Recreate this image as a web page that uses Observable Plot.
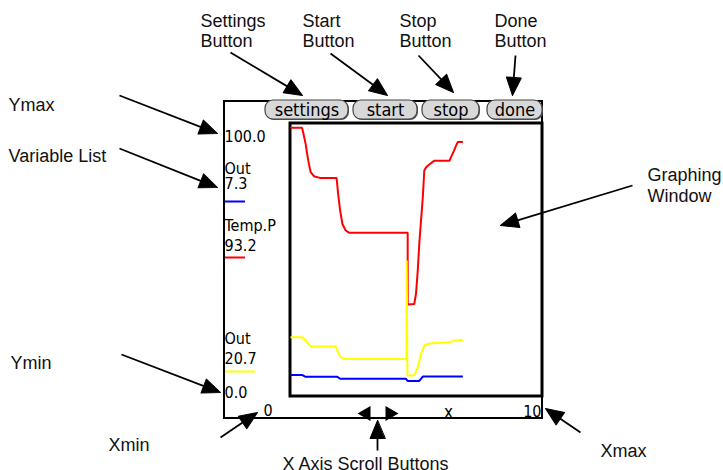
<!DOCTYPE html>
<html><head><meta charset="utf-8">
<script src="https://cdn.jsdelivr.net/npm/d3@7"></script>
<script src="https://cdn.jsdelivr.net/npm/@observablehq/plot@0.6"></script>
<style>
body{margin:0;background:#fff}
#wrap{position:relative;width:723px;height:470px;background:#fff}
#wrap svg{max-width:none}
#wrap svg.overlay{position:absolute}
</style></head><body><div id="wrap"></div>
<script>
// ---- series data (x: 0..10, y: 0..100) ----
const tempPX = [0, 0.46, 0.53, 0.6, 0.66, 0.73, 0.8, 0.93, 1.2, 1.83, 1.89, 1.97, 2.06, 2.19, 2.32, 4.65, 4.65, 4.91, 4.98, 5.05, 5.11, 5.18, 5.25, 5.31, 5.38, 5.51, 5.71, 6.31, 6.37, 6.48, 6.57, 6.64, 6.84];
const tempPY = [98.4, 98.4, 95.6, 92.6, 88.9, 85.2, 82.2, 80.7, 80, 80, 74.2, 68.1, 63.2, 60.8, 60, 60, 33.7, 33.9, 37.6, 46.2, 55.9, 64.5, 73, 82.8, 84, 85, 86.4, 86.4, 87.7, 89.9, 91.9, 93.2, 93.2];
const out2X = [0, 0.46, 0.6, 0.8, 1.79, 1.89, 1.99, 2.19, 4.6, 4.61, 4.64, 4.91, 5.05, 5.18, 5.31, 5.45, 5.65, 6.31, 6.51, 6.84];
const out2Y = [21.7, 21.7, 20.5, 18.3, 18.3, 16.2, 14.4, 13.7, 13.7, 49.8, 7.7, 7.7, 10.7, 15.6, 18.7, 19.3, 19.5, 19.9, 20.5, 20.7];
const out1X = [0, 0.46, 0.6, 1.86, 1.97, 4.58, 4.65, 5.11, 5.25, 6.84];
const out1Y = [7.9, 7.9, 7.2, 7.2, 6.5, 6.5, 5.7, 5.7, 7.3, 7.3];

const seriesNames = ["Out", "Temp.P", "Out"];
const seriesColors = ["#0000ff", "#ff0000", "#ffff00"];
const seriesXs = [out1X, tempPX, out2X];
const seriesYs = [out1Y, tempPY, out2Y];
const drawOrder = [1, 2, 0];

const xDomain = [0, 10];
const yDomain = [0, 100];
const xAxisLabel = "x";

const buttonLabels = ["settings", "start", "stop", "done"];

// annotation callouts
const calloutLines = ["Ymax", "Variable List", "Ymin", "Xmin", "Xmax", "X Axis Scroll Buttons",
  "Settings", "Button", "Start", "Button", "Stop", "Button", "Done", "Button", "Graphing", "Window"];

// ---- layout (page pixels) ----
const W = 723, H = 470;
const device = {x1: 224, x2: 542, y1: 101, y2: 418};
const graph = {x1: 290, x2: 542, y1: 123, y2: 396};
const buttonX1 = [265, 353, 422, 487], buttonX2 = [348, 417, 479, 542];
const buttonY1 = 100, buttonY2 = 119, buttonBase = 115;
const calloutX = [8, 8, 10, 108, 600, 282, 200, 200, 302, 302, 399, 399, 494, 494, 647, 647];
const calloutBase = [110, 161, 368, 450, 456, 469, 26, 46, 26, 46, 26, 46, 26, 46, 180, 201];
const arrowFrom = [[119,95],[119,148],[121,354],[220,437],[230,52],[330,53],[418,55],[515,55],[632,185],[377,450],[580,432]];
const arrowTo = [[217,133],[217,187],[220,392],[257,412],[302,95],[387,95],[453,92],[512,95],[500,225],[377,420],[545,408]];
const listBase = {ymax: 141, name: [173, 230, 343], value: [188, 250, 363], ymin: 397};
const swatchY = [201, 257, 371], swatchX2 = [245, 245, 255];
const scrollX = [364, 391], scrollY = 413;

const palmFont = "'DejaVu Sans Condensed', 'DejaVu Sans', sans-serif";
const labelFont = "'Liberation Sans', Arial, Helvetica, sans-serif";
const fmt = d3.format(".1f");

// ---- build tables ----
const buttons = buttonLabels.map((label, i) => ({label, x1: buttonX1[i], x2: buttonX2[i], xm: (buttonX1[i] + buttonX2[i]) / 2}));
const callouts = calloutLines.map((text, i) => ({text, x: calloutX[i], y: calloutBase[i]}));
const arrows = arrowFrom.map((f, i) => {
  const t = arrowTo[i], dx = t[0] - f[0], dy = t[1] - f[1], len = Math.hypot(dx, dy);
  return {x1: f[0], y1: f[1], x2: t[0], y2: t[1], lx: t[0] - dx / len * 10, ly: t[1] - dy / len * 10,
    angle: Math.atan2(dx, -dy) * 180 / Math.PI};
});
const listTexts = [{text: fmt(yDomain[1]), y: listBase.ymax}, {text: fmt(yDomain[0]), y: listBase.ymin}];
seriesNames.forEach((n, i) => {
  const ys = seriesYs[i];
  listTexts.push({text: n, y: listBase.name[i]});
  listTexts.push({text: fmt(ys[ys.length - 1]), y: listBase.value[i]});
});
const swatches = seriesColors.map((c, i) => ({color: c, y: swatchY[i], x1: device.x1, x2: swatchX2[i]}));

const headShape = {
  draw(context) {
    context.moveTo(0, 0);
    context.lineTo(-7.5, 18);
    context.lineTo(7.5, 18);
    context.closePath();
  }
};
const leftTri = {draw(c) { c.moveTo(-7, 0); c.lineTo(6, -7.5); c.lineTo(6, 7.5); c.closePath(); }};
const rightTri = {draw(c) { c.moveTo(7, 0); c.lineTo(-6, -7.5); c.lineTo(-6, 7.5); c.closePath(); }};

const base = Plot.plot({
  width: W, height: H, margin: 0,
  x: {type: "identity"}, y: {type: "identity"},
  style: {background: "white"},
  marks: [
    Plot.rect([device], {x1: "x1", x2: "x2", y1: "y1", y2: "y2", fill: "white"}),
    Plot.text(listTexts, {x: device.x1, y: "y", text: "text", textAnchor: "start", lineAnchor: "bottom",
      fontFamily: palmFont, fontSize: 16, fill: "black"}),
    Plot.ruleY(swatches, {y: "y", x1: "x1", x2: "x2", stroke: "color", strokeWidth: 2}),
    Plot.rect([device], {x1: "x1", x2: "x2", y1: "y1", y2: "y2", fill: "none", stroke: "black", strokeWidth: 2}),
    Plot.rect([graph], {x1: "x1", x2: "x2", y1: "y1", y2: "y2", fill: "none", stroke: "black", strokeWidth: 3}),
    Plot.rect(buttons, {x1: d => d.x1 + 1, x2: d => d.x2 + 1, y1: buttonY1 + 1, y2: buttonY2 + 1, rx: 8, fill: "#555"}),
    Plot.rect(buttons, {x1: "x1", x2: "x2", y1: buttonY1, y2: buttonY2, rx: 8, fill: "#d8d8d8", stroke: "#444", strokeWidth: 1.2}),
    Plot.text(buttons, {x: "xm", y: buttonBase, text: "label", lineAnchor: "bottom", fontFamily: palmFont, fontSize: 18, fill: "black"}),
    Plot.text([xDomain[0]], {x: 263, y: 415, text: d => String(d), textAnchor: "start", lineAnchor: "bottom", fontFamily: palmFont, fontSize: 16, fill: "black"}),
    Plot.text([xDomain[1]], {x: 541, y: 416, text: d => String(d), textAnchor: "end", lineAnchor: "bottom", fontFamily: palmFont, fontSize: 16, fill: "black"}),
    Plot.text([xAxisLabel], {x: 448, y: 417, text: d => d, lineAnchor: "bottom", fontFamily: palmFont, fontSize: 17, fill: "black"}),
    Plot.dot([scrollX[0]], {x: d => d, y: scrollY, symbol: leftTri, fill: "black", stroke: "none"}),
    Plot.dot([scrollX[1]], {x: d => d, y: scrollY, symbol: rightTri, fill: "black", stroke: "none"}),
    Plot.text(callouts, {x: "x", y: "y", text: "text", textAnchor: "start", lineAnchor: "bottom",
      fontFamily: labelFont, fontSize: 18, fill: "#111"}),
    Plot.link(arrows, {x1: "x1", y1: "y1", x2: "lx", y2: "ly", stroke: "black", strokeWidth: 1.8}),
    Plot.vector(arrows, {x: "x2", y: "y2", rotate: "angle", length: 18, anchor: "start", shape: headShape,
      fill: "black", stroke: "black", strokeWidth: 1})
  ]
});

const rows = [];
drawOrder.forEach(i => seriesXs[i].forEach((x, j) => rows.push({k: i, x, y: seriesYs[i][j]})));

const chart = Plot.plot({
  width: graph.x2 - graph.x1, height: graph.y2 - graph.y1, margin: 0,
  x: {domain: xDomain, axis: null}, y: {domain: yDomain, axis: null},
  style: {background: "transparent", overflow: "visible"},
  marks: drawOrder.map(i => Plot.line(rows.filter(r => r.k === i), {x: "x", y: "y", stroke: seriesColors[i], strokeWidth: 2, strokeLinejoin: "miter", strokeLinecap: "butt"}))
});
chart.classList.add("overlay");
chart.style.left = graph.x1 + "px";
chart.style.top = graph.y1 + "px";
const wrap = document.getElementById("wrap");
wrap.appendChild(base);
wrap.appendChild(chart);
</script></body></html>
